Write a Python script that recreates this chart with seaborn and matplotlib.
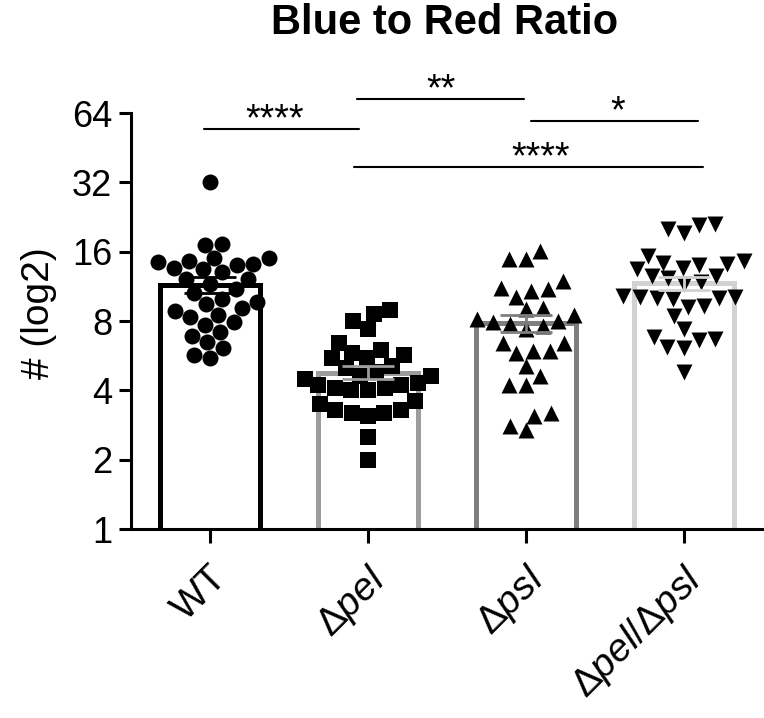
import matplotlib
matplotlib.use("Agg")
import matplotlib.pyplot as plt
import matplotlib.ticker as mtick
import matplotlib.transforms as mtrans
import numpy as np
import pandas as pd
import seaborn as sns

# group names, axis labels and styling per group
groups = ["WT", "pel", "psl", "pel/psl"]
tick_labels = ["WT", r"$\Delta\mathit{pel}$", r"$\Delta\mathit{psl}$",
               r"$\Delta\mathit{pel/}\Delta\mathit{psl}$"]
edge_colors = ["#000000", "#9c9c9c", "#7e7e7e", "#d2d2d2"]
markers = ["o", "s", "^", "v"]

# values (log2 axis)
wt = [32.0, 17.3, 17.1,
      15.0, 15.0, 14.6, 14.5, 14.2, 14.0, 13.6, 13.4, 13.0,
      12.2, 12.2, 11.6, 11.0,
      10.6, 10.0, 9.7, 9.5,
      9.1, 8.8, 8.5, 8.3, 7.9, 7.7, 7.2,
      6.9, 6.5, 6.1, 5.7, 5.5]
pel = [8.9, 8.6, 8.0, 7.4,
       6.4, 6.0, 5.8, 5.7, 5.5, 5.5,
       5.1, 5.0, 4.8, 4.6, 4.6, 4.5,
       4.3, 4.2, 4.1, 4.0, 4.0, 4.1, 4.2,
       3.6, 3.5, 3.3, 3.2, 3.1, 3.2, 3.3,
       2.5, 2.0]
psl = [16.1, 14.9, 14.8, 11.9, 11.1, 11.0, 10.8, 10.2, 9.1, 9.0,
       8.5, 8.2, 8.0, 7.9, 7.8, 7.6, 7.4, 6.4, 6.4, 5.9,
       5.9, 5.8, 5.1, 4.6, 4.2, 4.2, 3.2, 3.1, 2.8, 2.7]
dbl = [21.2, 20.8, 20.1, 19.3,
       15.3, 14.6, 14.3, 14.2, 14.0, 13.6, 13.4,
       12.6, 12.5, 12.3, 11.8, 11.6,
       10.3, 10.2, 10.1, 10.0, 10.1, 10.2,
       9.3, 9.2, 8.4, 7.4, 6.8, 6.7, 6.6, 6.2, 6.1, 4.8]

# significance brackets: (start, end, height, label, label x)
brackets = [(-0.04, 0.94, 54.6, "****", 0.41),
            (0.93, 1.99, 73.7, "**", 1.46),
            (2.03, 3.09, 59.2, "*", 2.58),
            (0.91, 3.12, 37.4, "****", 2.09)]

df = pd.concat([pd.DataFrame({"group": g, "value": v})
                for g, v in zip(groups, [wt, pel, psl, dbl])], ignore_index=True)

sns.set_style("ticks")
plt.rcParams["font.family"] = ["Liberation Sans", "DejaVu Sans"]
plt.rcParams["mathtext.fontset"] = "custom"
plt.rcParams["mathtext.rm"] = "Liberation Sans"
plt.rcParams["mathtext.it"] = "Liberation Sans:italic"
for k in ["text.color", "axes.labelcolor", "xtick.color", "ytick.color", "axes.edgecolor"]:
    plt.rcParams[k] = "black"

fig = plt.figure(figsize=(7.64, 7.18), dpi=100)
ax = fig.add_axes([0.1715, 0.2632, 0.8272, 0.5794])

# bars (arithmetic mean), drawn on linear scale first
sns.barplot(data=df, x="group", y="value", hue="group", order=groups,
            hue_order=groups, palette=edge_colors, fill=False, linewidth=3.6,
            width=0.635, errorbar=None, legend=False, ax=ax)

ax.set_yscale("log", base=2)
ax.set_ylim(1, 64)

# points
for g, m in zip(groups, markers):
    sns.swarmplot(data=df[df["group"] == g], x="group", y="value", order=groups,
                  marker=m, color="black", size=11.5, linewidth=0,
                  warn_thresh=1, ax=ax, zorder=3)

# mean +/- SEM
stats = df.groupby("group", sort=False)["value"].agg(["mean", "sem"])
for i, g in enumerate(groups):
    ax.errorbar(i, stats.loc[g, "mean"], yerr=stats.loc[g, "sem"], fmt="none",
                ecolor=edge_colors[i], elinewidth=2, capsize=19, capthick=2,
                zorder=4)

# significance lines
for x1, x2, y, lab, tx in brackets:
    ax.plot([x1, x2], [y, y], color="black", lw=1.5, clip_on=False)
    ax.annotate(lab, (tx, y), xytext=(0, 6), textcoords="offset points",
                ha="center", va="center", fontsize=27, annotation_clip=False)

ax.set_xlim(-0.5, 3.5)
ax.set_yticks([1, 2, 4, 8, 16, 32, 64])
ax.yaxis.set_major_formatter(mtick.FuncFormatter(lambda v, p: f"{v:g}"))
ax.yaxis.set_minor_locator(mtick.NullLocator())
ax.tick_params(axis="y", labelsize=26, width=2.2, length=8.5, pad=5)
ax.tick_params(axis="x", labelsize=28, width=2.2, length=10, pad=12)
ax.set_xticks(range(4))
ax.set_xticklabels(tick_labels, rotation=45, ha="right", va="top",
                   rotation_mode="anchor")
shift = mtrans.ScaledTranslation(-0.01, 0, fig.dpi_scale_trans)
for lab in ax.get_xticklabels():
    lab.set_transform(lab.get_transform() + shift)

ax.set_xlabel("")
ax.set_ylabel("# (log2)", fontsize=28)
ax.yaxis.set_label_coords(-0.117, 0.52)
sns.despine(ax=ax)
for s in ["left", "bottom"]:
    ax.spines[s].set_linewidth(2.2)

fig.text(0.582, 1 - 34 / 718, "Blue to Red Ratio", ha="center", va="baseline",
         fontsize=30, fontweight="bold")

fig.savefig("out.png", dpi=100)
